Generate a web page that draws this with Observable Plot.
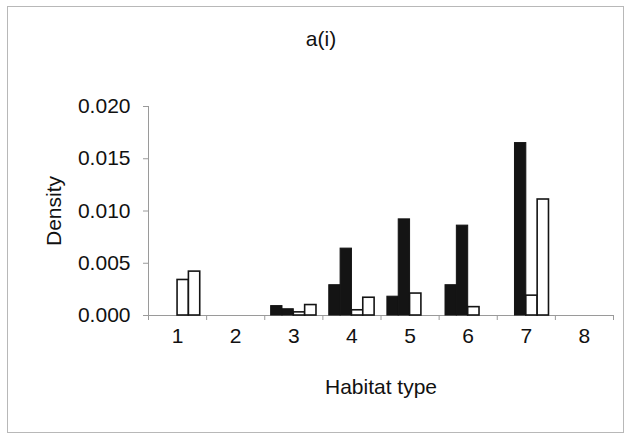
<!DOCTYPE html>
<html>
<head>
<meta charset="utf-8">
<script src="https://cdn.jsdelivr.net/npm/d3@7"></script>
<script src="https://cdn.jsdelivr.net/npm/@observablehq/plot@0.6"></script>
<style>
  html, body { margin: 0; padding: 0; background: #fff; }
  #chart { position: relative; width: 628px; height: 436px; }
  #chart .frame { position: absolute; left: 7px; top: 6px; width: 617px; height: 427px;
    border: 1.5px solid #b8b8b8; box-sizing: border-box; }
  #chart svg { position: absolute; left: 0; top: 0; }
</style>
</head>
<body>
<div id="chart"><div class="frame"></div></div>
<script>
// Habitat types on the category axis
const habitats = [1, 2, 3, 4, 5, 6, 7, 8];

// Density per habitat type, four series (two solid, two open)
const solidA = [0, 0, 0.0009, 0.0029, 0.0018, 0.0029, 0, 0];
const solidB = [0, 0, 0.0006, 0.0064, 0.0092, 0.0086, 0.0165, 0];
const openA  = [0.0034, 0, 0.0003, 0.0005, 0.0021, 0.0008, 0.0019, 0];
const openB  = [0.0042, 0, 0.0010, 0.0017, 0, 0, 0.0111, 0];

// Y tick values
const yTicks = [0, 0.005, 0.010, 0.015, 0.020];

const seriesValues = [solidA, solidB, openA, openB];
const seriesSolid = [true, true, false, false];
const barWidth = 0.195; // fraction of one category step

const rows = seriesValues.flatMap((vals, k) =>
  habitats.map((h, i) => ({
    habitat: h,
    solid: seriesSolid[k],
    value: vals[i],
    x1: h + (k - 2) * barWidth,
    x2: h + (k - 1) * barWidth
  }))
);

const boundaries = habitats.map(h => h - 0.5).concat(habitats[habitats.length - 1] + 0.5);
const ink = "#141414";
const axisGrey = "#9a9a9a";
const fontSize = 21;

const chart = Plot.plot({
  width: 628,
  height: 436,
  marginLeft: 148,
  marginRight: 15,
  marginTop: 106,
  marginBottom: 121,
  style: { fontFamily: "'Liberation Sans', Arial, sans-serif", fontSize: `${fontSize}px`, color: "#111", background: "transparent" },
  x: { type: "linear", domain: [0.5, 8.5], axis: null },
  y: { domain: [0, 0.02], axis: null },
  marks: [
    // axis lines
    Plot.ruleY([0], { stroke: axisGrey }),
    Plot.ruleX([0.5], { y1: 0, y2: 0.02, stroke: axisGrey }),
    // y axis ticks and labels
    Plot.axisY(yTicks, { anchor: "left", tickSize: 5, tickPadding: 13, stroke: axisGrey, color: "#111",
      tickFormat: d3.format(".3f"), label: null }),
    // x category boundary ticks
    Plot.axisX(boundaries, { anchor: "bottom", tickSize: 5, stroke: axisGrey, tickFormat: () => "", label: null }),
    // x category labels
    Plot.axisX(habitats, { anchor: "bottom", tickSize: 0, tickPadding: 13, color: "#111", label: null }),
    // bars
    Plot.rectY(rows.filter(d => d.solid), { x1: "x1", x2: "x2", y: "value", fill: ink, stroke: ink, strokeWidth: 1 }),
    Plot.rectY(rows.filter(d => !d.solid), { x1: "x1", x2: "x2", y: "value", fill: "#fff", stroke: ink, strokeWidth: 1.6 }),
    // titles
    Plot.text(["a(i)"], { text: d => d, frameAnchor: "top", dx: -60, dy: -75, fontSize }),
    Plot.text(["Density"], { text: d => d, frameAnchor: "left", rotate: -90, textAnchor: "middle", dx: -94, fontSize }),
    Plot.text(["Habitat type"], { text: d => d, frameAnchor: "bottom", dy: 78, fontSize })
  ]
});

document.getElementById("chart").appendChild(chart);
</script>
</body>
</html>
